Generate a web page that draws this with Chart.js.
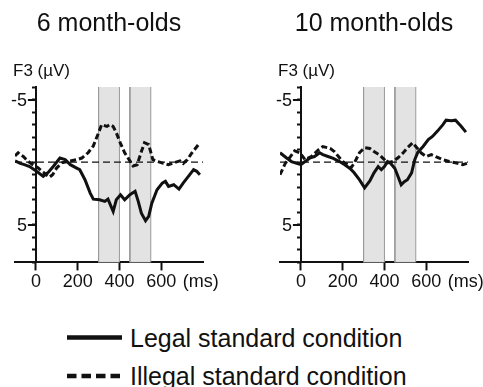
<!DOCTYPE html>
<html>
<head>
<meta charset="utf-8">
<script src="https://cdn.jsdelivr.net/npm/chart.js@4.4.1/dist/chart.umd.min.js"></script>
<style>
  body { margin: 0; background: #fff; }
  #wrap { position: relative; width: 483px; height: 387px; overflow: hidden; font-family: "Liberation Sans", Arial, sans-serif; color: #111; }
  canvas { position: absolute; top: 0; }
  #c6 { left: 0; }
  #c10 { left: 273px; }
  .leg { position: absolute; left: 67px; height: 30px; line-height: 30px; font-size: 25px; white-space: nowrap; }
  .leg svg { position: absolute; left: 0; top: 10px; }
  .leg span { position: absolute; left: 63px; top: 0; }
</style>
</head>
<body>
<div id="wrap">
  <canvas id="c6" width="256" height="300"></canvas>
  <canvas id="c10" width="210" height="300"></canvas>
  <div class="leg" style="top:323px">
    <svg width="56" height="10"><line x1="0" y1="4.5" x2="55" y2="4.5" stroke="#111" stroke-width="4.5"/></svg>
    <span>Legal standard condition</span>
  </div>
  <div class="leg" style="top:361px">
    <svg width="56" height="10"><line x1="0" y1="5" x2="55" y2="5" stroke="#111" stroke-width="4.5" stroke-dasharray="9.5 5"/></svg>
    <span>Illegal standard condition</span>
  </div>
</div>
<script>
// time axis (ms) and amplitude axis (µV, negative up)
const xRange = [-100, 800];
const yRange = [-6, 8];
const xTicks = [0, 200, 400, 600];
const yTicks = [-6, -5, -4, -3, -2, -1, 0, 1, 2, 3, 4, 5, 6, 7, 8];
const yMajor = [-5, 5];

// analysis windows (shaded)
const windowStart = [300, 450];
const windowEnd = [400, 550];

// 6 month-olds, F3
const legal6Ms = [-100, -75, -55, -30, 5, 35, 60, 85, 115, 140, 165, 195, 210, 235, 260, 275, 305, 330, 345, 370, 385, 405, 425, 450, 475, 490, 505, 525, 540, 555, 580, 605, 620, 635, 660, 685, 705, 730, 755, 770, 785];
const legal6Uv = [-0.1, 0.1, 0.2, 0.35, 0.75, 1.13, 0.8, 0.3, -0.33, -0.2, 0.2, 0.47, 0.6, 1.4, 2.47, 2.95, 3.0, 3.13, 2.95, 3.93, 3.0, 2.6, 3.0, 2.6, 2.33, 3.13, 4.07, 4.67, 4.33, 3.27, 2.2, 1.67, 1.53, 1.93, 1.8, 2.15, 1.67, 1.13, 0.6, 0.73, 1.0];
const illegal6Ms = [-100, -85, -75, -60, -40, -15, 10, 35, 65, 80, 100, 125, 155, 195, 220, 250, 275, 300, 315, 340, 355, 370, 385, 405, 425, 450, 465, 485, 505, 520, 540, 560, 585, 610, 635, 660, 690, 705, 725, 745, 785];
const illegal6Uv = [-0.5, -0.75, -0.6, -0.45, -0.1, 0.2, 0.45, 0.8, 1.2, 1.0, 0.45, 0.05, -0.07, -0.2, -0.33, -0.75, -1.3, -2.35, -3.0, -2.85, -3.0, -2.85, -2.35, -1.5, -0.75, -0.1, 0.3, 0.2, -0.85, -1.55, -1.4, -0.2, -0.05, 0.1, 0.2, 0.05, -0.1, 0.1, -0.2, -0.7, -1.55];

// 10 month-olds, F3
const legal10Ms = [-100, -70, -45, -20, 0, 20, 45, 65, 90, 105, 130, 155, 185, 210, 235, 255, 280, 305, 330, 350, 370, 385, 400, 415, 430, 450, 465, 480, 495, 510, 530, 545, 560, 585, 610, 630, 655, 680, 695, 720, 740, 765, 790];
const legal10Uv = [-0.75, -0.35, -0.05, 0.1, 0.2, -0.05, -0.35, -0.45, -0.75, -0.6, -0.45, -0.3, -0.05, 0.2, 0.5, 0.85, 1.4, 2.05, 1.5, 0.85, 0.35, 0.6, 0.35, -0.05, 0.1, 0.5, 1.15, 1.8, 1.55, 1.4, 0.85, -0.2, -0.8, -1.25, -1.8, -2.05, -2.5, -3.0, -3.35, -3.3, -3.35, -2.9, -2.4];
const illegal10Ms = [-100, -75, -50, -30, -5, 20, 50, 85, 105, 140, 160, 180, 200, 225, 240, 255, 280, 305, 330, 350, 375, 400, 415, 440, 465, 490, 510, 535, 550, 575, 600, 625, 645, 680, 710, 740, 775, 795];
const illegal10Uv = [1.0, 0.1, -0.45, -0.9, -0.75, -0.2, -0.45, -1.0, -1.25, -1.1, -0.85, -0.45, -0.05, 0.2, 0.45, 0.1, -0.75, -1.15, -1.1, -0.85, -0.6, -0.2, 0.05, -0.05, -0.35, -0.75, -1.15, -1.55, -1.25, -0.75, -0.45, -0.6, -0.45, -0.2, -0.05, 0.05, 0.2, 0.1];

const FONT = '"Liberation Sans", Arial, sans-serif';
const INK = '#111';
Chart.defaults.font.family = FONT;
Chart.defaults.color = INK;

const toXY = (ms, uv) => ms.map((t, i) => ({ x: t, y: uv[i] }));

// the y axis sits at t = 0, so its long ticks, labels and the unit texts are drawn here
const axisExtras = {
  id: 'axisExtras',
  afterDraw(chart) {
    const { ctx, chartArea, scales: { x, y } } = chart;
    const x0 = x.getPixelForValue(0);
    ctx.save();
    ctx.strokeStyle = INK;
    ctx.fillStyle = INK;
    ctx.lineWidth = 2;
    ctx.font = '18px ' + FONT;
    ctx.textAlign = 'right';
    ctx.textBaseline = 'middle';
    yMajor.forEach((v) => {
      const py = Math.round(y.getPixelForValue(v));
      ctx.beginPath();
      ctx.moveTo(x0, py);
      ctx.lineTo(x0 - 8, py);
      ctx.stroke();
      ctx.fillText(String(v), x0 - 9, py + 1);
    });
    ctx.textAlign = 'left';
    ctx.font = '17px ' + FONT;
    ctx.fillText('F3 (µV)', chartArea.left - 2, chartArea.top - 16);
    ctx.font = '18px ' + FONT;
    ctx.fillText('(ms)', x.getPixelForValue(600) + 21.5, chartArea.bottom + 8 + 1 + 10.8);
    ctx.restore();
  },
};

function makePanel(id, title, legalMs, legalUv, illegalMs, illegalUv, pad) {
  const windows = windowStart.map((s, i) => ({
    label: 'window',
    data: [
      { x: s, y: yRange[0] }, { x: s, y: yRange[1] },
      { x: windowEnd[i], y: yRange[1] }, { x: windowEnd[i], y: yRange[0] },
    ],
    borderColor: '#9a9a9a',
    borderWidth: 1,
    backgroundColor: '#e3e3e3',
    fill: { value: yRange[0] },
    pointRadius: 0,
    order: 3,
  }));

  return new Chart(document.getElementById(id), {
    type: 'line',
    data: {
      datasets: [
        ...windows,
        {
          label: 'baseline',
          data: [{ x: xRange[0], y: 0 }, { x: xRange[1], y: 0 }],
          borderColor: INK,
          borderWidth: 1.3,
          borderDash: [7, 4],
          pointRadius: 0,
          fill: false,
          order: 2,
        },
        {
          label: 'Illegal standard condition',
          data: toXY(illegalMs, illegalUv),
          borderColor: INK,
          borderWidth: 3,
          borderDash: [6, 3],
          pointRadius: 0,
          fill: false,
          order: 1,
        },
        {
          label: 'Legal standard condition',
          data: toXY(legalMs, legalUv),
          borderColor: INK,
          borderWidth: 3,
          pointRadius: 0,
          fill: false,
          order: 0,
        },
      ],
    },
    options: {
      responsive: false,
      animation: false,
      layout: { padding: pad },
      plugins: {
        legend: { display: false },
        tooltip: { enabled: false },
        title: {
          display: true,
          text: title,
          color: INK,
          font: { size: 25, weight: 'normal' },
          padding: { top: 9, bottom: 48 },
        },
      },
      scales: {
        x: {
          type: 'linear',
          min: xRange[0],
          max: xRange[1],
          afterBuildTicks: (s) => { s.ticks = xTicks.map((v) => ({ value: v })); },
          ticks: { font: { size: 18 }, color: INK, padding: 1, maxRotation: 0, autoSkip: false },
          grid: { drawOnChartArea: false, tickLength: 8, tickWidth: 2, tickColor: INK },
          border: { color: INK, width: 2 },
        },
        y: {
          type: 'linear',
          reverse: true,
          min: yRange[0],
          max: yRange[1],
          position: { x: 0 },
          afterBuildTicks: (s) => { s.ticks = yTicks.map((v) => ({ value: v })); },
          ticks: { display: false, autoSkip: false },
          grid: { drawOnChartArea: false, tickLength: 3, tickWidth: 2, tickColor: INK },
          border: { color: INK, width: 2 },
        },
      },
    },
    plugins: [axisExtras],
  });
}

makePanel('c6', '6 month-olds', legal6Ms, legal6Uv, illegal6Ms, illegal6Uv, { left: 15, right: 53, top: 0, bottom: 6 });
makePanel('c10', '10 month-olds', legal10Ms, legal10Uv, illegal10Ms, illegal10Uv, { left: 7, right: 15, top: 0, bottom: 6 });
</script>
</body>
</html>
